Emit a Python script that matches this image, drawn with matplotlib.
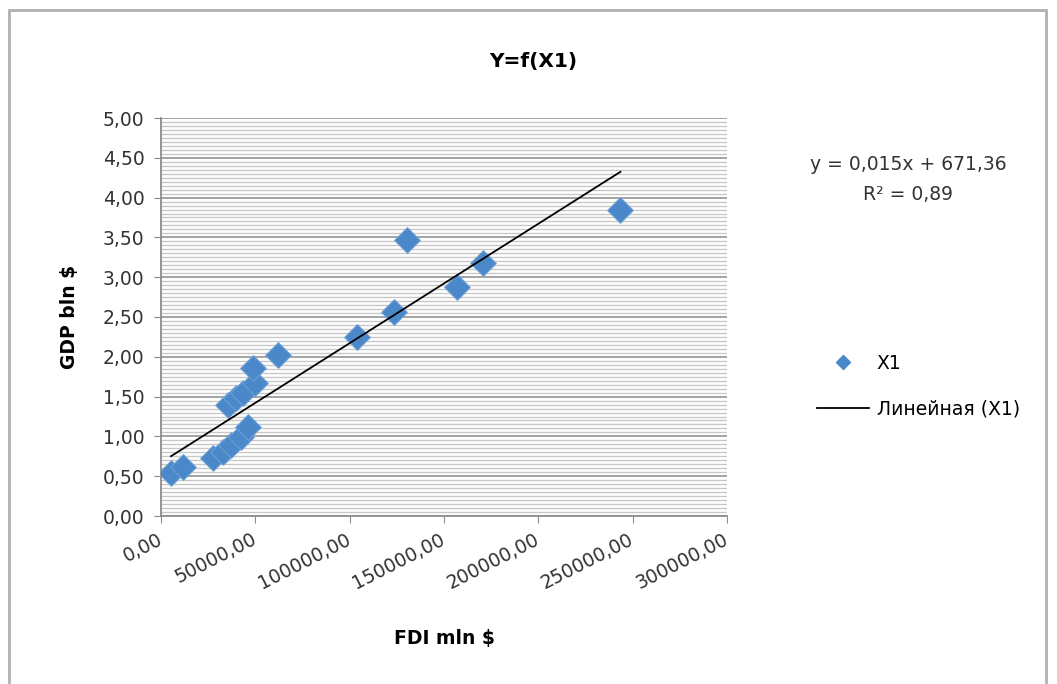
import matplotlib.pyplot as plt
import numpy as np
from matplotlib.lines import Line2D
from matplotlib.patches import Rectangle
from matplotlib.ticker import FuncFormatter, MultipleLocator

plt.rcParams['font.family'] = ['DejaVu Sans']

# FDI, mln $ (x) and GDP, bln $ (y)
fdi = [5300, 11700, 27700, 33000, 37000, 42600, 46000, 35700, 40000, 43700,
       50000, 49000, 62000, 103900, 123600, 130600, 156700, 170500, 243500]
gdp = [0.54, 0.62, 0.73, 0.80, 0.89, 0.99, 1.12, 1.39, 1.48, 1.55,
       1.67, 1.86, 2.02, 2.25, 2.56, 3.47, 2.88, 3.18, 3.84]

# trend line as printed on the chart (GDP in mln there)
slope_txt = 0.015
intercept_txt = 671.36
r2_txt = 0.89

x_ticks = [0, 50000, 100000, 150000, 200000, 250000, 300000]

W, H = 1057, 684
fig = plt.figure(figsize=(W / 100, H / 100), dpi=100)

# outer chart frame
fig.patches.append(Rectangle((9 / W, -0.05), 1037 / W, 1 - 10 / H + 0.05,
                             transform=fig.transFigure, fill=False,
                             edgecolor='#b0b0b0', lw=2))

ax = fig.add_axes([161 / W, 1 - 516 / H, (727 - 161) / W, (516 - 118) / H])

blue = '#4a88c9'
ax.scatter(fdi, gdp, marker='D', s=170, color=blue, edgecolors='#6a9fd6',
           linewidths=0.8, zorder=3)

xs = np.array([min(fdi), max(fdi)])
ax.plot(xs, (slope_txt * xs + intercept_txt) / 1000, color='black', lw=1.3, zorder=4)

ax.set_xlim(0, 300000)
ax.set_ylim(0, 5)
ax.set_xticks(x_ticks)
ax.yaxis.set_major_locator(MultipleLocator(0.5))
ax.yaxis.set_minor_locator(MultipleLocator(0.05))

fmt = FuncFormatter(lambda v, p: f"{v:.2f}".replace('.', ','))
ax.xaxis.set_major_formatter(fmt)
ax.yaxis.set_major_formatter(fmt)

ax.grid(axis='y', which='minor', color='#c8c8c8', lw=1.0)
ax.grid(axis='y', which='major', color='#9c9c9c', lw=1.3)
ax.set_axisbelow(True)

for s in ['top', 'right']:
    ax.spines[s].set_visible(False)
for s in ['left', 'bottom']:
    ax.spines[s].set_color('#8c8c8c')
    ax.spines[s].set_linewidth(1.3)

ax.tick_params(axis='both', which='major', length=5, color='#8c8c8c',
               labelsize=13.5, labelcolor='#333333')
ax.tick_params(axis='y', which='major', pad=7)
ax.tick_params(axis='x', which='major', pad=11)
ax.tick_params(axis='y', which='minor', length=0)
for lab in ax.get_xticklabels():
    lab.set_rotation(27)
    lab.set_ha('right')
    lab.set_va('center')
    lab.set_rotation_mode('anchor')

ax.set_xlabel('FDI mln $', fontsize=13.5, fontweight='bold', labelpad=26)
ax.set_ylabel('GDP bln $', fontsize=13.5, fontweight='bold', labelpad=17)

fig.text(533 / W, 1 - 62 / H, 'Y=f(X1)', ha='center', va='center',
         fontsize=14.5, fontweight='bold')

eq = f"y = {slope_txt:.3f}x + {intercept_txt:.2f}".replace('.', ',')
fig.text(908 / W, 1 - 165 / H, eq, ha='center', va='center', fontsize=13.5,
         color='#333333')
fig.text(908 / W, 1 - 195 / H, f"R² = {r2_txt:.2f}".replace('.', ','),
         ha='center', va='center', fontsize=13.5, color='#333333')

handles = [Line2D([], [], marker='D', ls='none', color=blue, markersize=7.5),
           Line2D([], [], color='black', lw=1.3)]
fig.legend(handles, ['X1', 'Линейная (X1)'], loc='center left',
           bbox_to_anchor=(800 / W, 1 - 386 / H), frameon=False,
           fontsize=13.5, labelspacing=1.4, handlelength=2.8, handletextpad=0.4)

fig.savefig('out.png', dpi=100)
